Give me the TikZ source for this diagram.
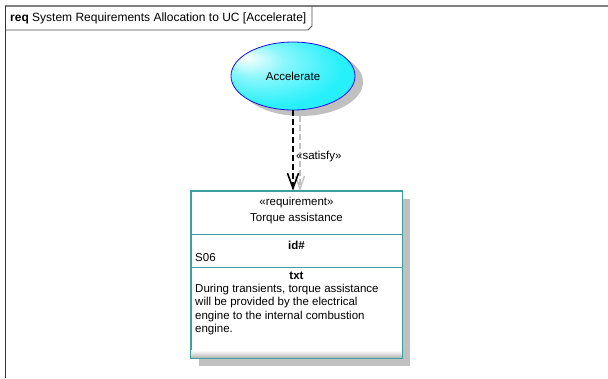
\documentclass[tikz,border=0pt]{standalone}
\usepackage{fontspec}
\setmainfont{Liberation Sans}
\usetikzlibrary{arrows.meta,shadows,shapes.geometric}
\definecolor{ucfill}{RGB}{40,240,250}
\definecolor{ucline}{RGB}{20,20,230}
\definecolor{reqline}{RGB}{60,160,160}
\definecolor{shadowgray}{RGB}{192,192,192}
\definecolor{framegray}{RGB}{128,128,128}
\pgfdeclareradialshading{ucglow}{\pgfpoint{-20bp}{14bp}}{%
  color(0bp)=(white); color(12bp)=(ucfill!55!white); color(28bp)=(ucfill);
  color(50bp)=(ucfill)}
\tikzset{
  frame top/.style={draw=framegray, line width=2.5pt},
  frame side/.style={draw=black!80, line width=0.9pt},
  frame tab/.style={draw=black!70, line width=0.8pt},
  frame title/.style={anchor=west, inner sep=0pt, font=\fontsize{12}{13}\selectfont},
  usecase/.style={ellipse, draw=ucline, line width=0.8pt, shading=ucglow,
    minimum width=124pt, minimum height=68pt, inner sep=0pt,
    font=\fontsize{11.5}{13}\selectfont,
    drop shadow={shadow xshift=8pt, shadow yshift=-6pt, fill=shadowgray, opacity=1}},
  reqbox/.style={draw=reqline, line width=0.9pt, fill=white,
    minimum width=211pt, minimum height=167pt, inner sep=0pt,
    drop shadow={shadow xshift=8pt, shadow yshift=-8pt, fill=shadowgray, opacity=1}},
  divider/.style={draw=reqline, line width=0.9pt},
  plain/.style={inner sep=0pt, font=\fontsize{11.5}{13}\selectfont},
  heading/.style={inner sep=0pt, font=\fontsize{11.5}{13}\selectfont\bfseries},
  body text/.style={anchor=north west, align=left, inner sep=0pt,
    font=\fontsize{11.5}{13.6}\selectfont},
  satisfy/.style={draw=black, line width=2.5pt, dash pattern=on 6pt off 3pt,
    arrows={-Straight Barb[length=15pt, width=11pt, line width=1.6pt]}},
  satisfy shadow/.style={draw=shadowgray, line width=2.5pt, dash pattern=on 6pt off 3pt,
    arrows={-Straight Barb[length=13pt, width=9pt, line width=1.4pt]}},
  satisfy label/.style={anchor=west, inner sep=0pt, font=\fontsize{11.5}{13}\selectfont}
}
\begin{document}
\begin{tikzpicture}[x=1pt,y=-1pt]
  \useasboundingbox (0,0) rectangle (608,378);

  \draw[frame top] (5,6) -- (608,6);
  \draw[frame side] (5,6) -- (5,378);
  \draw[frame tab] (5,30) -- (308,30) -- (312,26) -- (312,6);
  \node[frame title] at (10,18) (title) {\textbf{req} System Requirements Allocation to UC [Accelerate]};

  \coordinate (shadow top) at (300,116);
  \coordinate (shadow end) at (300,191);
  \draw[satisfy shadow] (shadow top) -- (shadow end);

  \node[usecase] at (293,76) (accelerate) {Accelerate};
  \node[reqbox] at (296.5,274.5) (torque) {};
  \shade[top color=white, bottom color=black!30]
    ([yshift=8pt,xshift=0.5pt]torque.south west) rectangle ([xshift=-0.5pt,yshift=0.5pt]torque.south east);
  \draw[reqline, line width=0.9pt] (torque.north west) rectangle (torque.south east);

  \node[plain] at (296.5,203) (req stereo) {«requirement»};
  \node[plain] at (296.5,219) (req name) {Torque assistance};
  \draw[divider] (torque.west |- 0,234) -- (torque.east |- 0,234);
  \node[heading] at (296.5,245) (id head) {id\#};
  \node[plain, anchor=west] at (195,258) (id value) {S06};
  \draw[divider] (torque.west |- 0,267) -- (torque.east |- 0,267);
  \node[heading] at (296.5,276) (txt head) {txt};
  \node[body text] at (195,283.5) (txt value) {During transients, torque assistance\\
    will be provided by the electrical\\
    engine to the internal combustion\\
    engine.};

  \draw[satisfy] (accelerate.south) -- (accelerate.south |- torque.north);
  \node[satisfy label] at (296,157) (satisfy text) {«satisfy»};
\end{tikzpicture}
\end{document}
